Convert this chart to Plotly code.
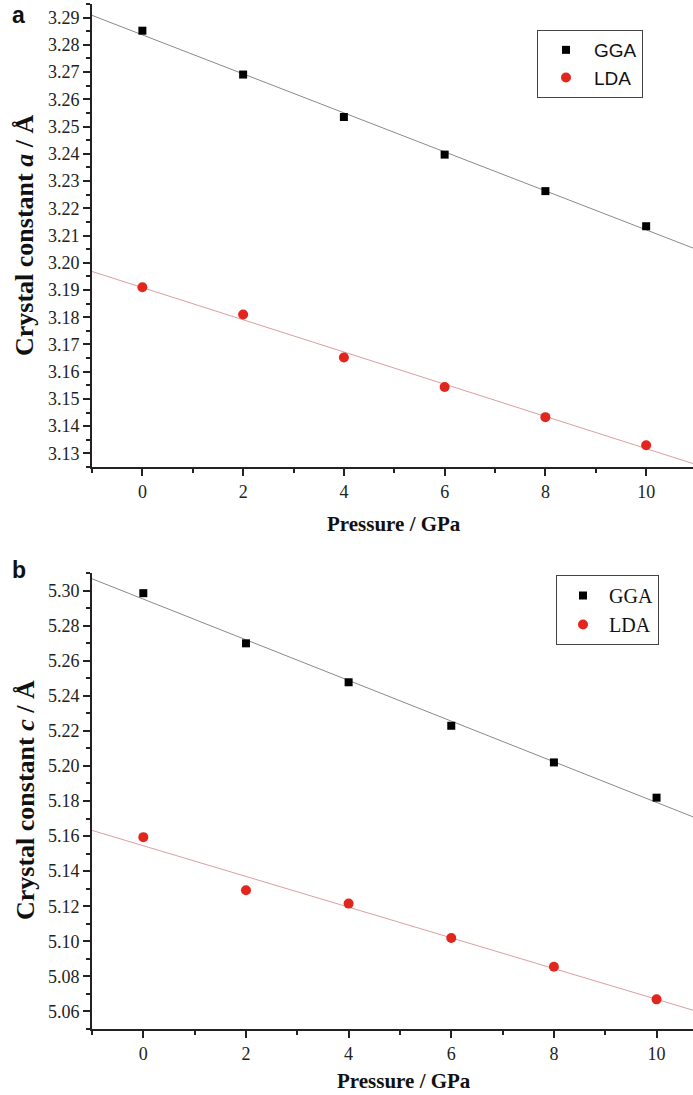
import numpy as np
import plotly.graph_objects as go

pressure = [0, 2, 4, 6, 8, 10]
a_gga = [3.2852, 3.2691, 3.2535, 3.2397, 3.2263, 3.2134]
a_lda = [3.1910, 3.1810, 3.1652, 3.1544, 3.1433, 3.1330]
c_gga = [5.2985, 5.2699, 5.2477, 5.2229, 5.2020, 5.1819]
c_lda = [5.1594, 5.1291, 5.1215, 5.1019, 5.0855, 5.0669]

x_ticks = [0, 2, 4, 6, 8, 10]
fit_span = [-1, 11]

RED = "#e2261d"
BLACK = "#000000"
SERIF = "Liberation Serif"
SANS = "Liberation Sans"

fig = go.Figure()


def fit_line(xs, ys):
    k, b = np.polyfit(xs, ys, 1)
    xx = np.array(fit_span, dtype=float)
    return xx, k * xx + b


# Top panel (a)
for ys, lcol in [(a_gga, "#8a8a8a"), (a_lda, "#d9a0a0")]:
    fx, fy = fit_line(pressure, ys)
    fig.add_trace(go.Scatter(x=fx, y=fy, mode="lines", line=dict(color=lcol, width=1),
                             showlegend=False, xaxis="x", yaxis="y", hoverinfo="skip"))
for ys, name, col, sym, sz in [
    (a_gga, "GGA", BLACK, "square", 8),
    (a_lda, "LDA", RED, "circle", 10),
]:
    fig.add_trace(go.Scatter(x=pressure, y=ys, mode="markers", name=name,
                             marker=dict(color=col, symbol=sym, size=sz),
                             xaxis="x", yaxis="y", legend="legend"))

# Bottom panel (b)
for ys, lcol in [(c_gga, "#8a8a8a"), (c_lda, "#d9a0a0")]:
    fx, fy = fit_line(pressure, ys)
    fig.add_trace(go.Scatter(x=fx, y=fy, mode="lines", line=dict(color=lcol, width=1),
                             showlegend=False, xaxis="x2", yaxis="y2", hoverinfo="skip"))
for ys, name, col, sym, sz in [
    (c_gga, "GGA", BLACK, "square", 8),
    (c_lda, "LDA", RED, "circle", 10),
]:
    fig.add_trace(go.Scatter(x=pressure, y=ys, mode="markers", name=name,
                             marker=dict(color=col, symbol=sym, size=sz),
                             xaxis="x2", yaxis="y2", legend="legend2"))

L, R, T, B = 92, 0, 4, 66
W, H = 693, 1095
PH = H - T - B
PW = W - L - R


def py(px):
    return (H - B - px) / PH


def pxf(px):
    return (px - L) / PW


axis_common = dict(showline=True, linecolor="#222", linewidth=2, ticks="outside",
                   ticklen=7, tickwidth=1.5, tickcolor="#222", showgrid=False,
                   zeroline=False, mirror=False,
                   tickfont=dict(family=SERIF, size=18, color="#222"))
minor_common = dict(ticks="outside", ticklen=4, tickcolor="#222", tickwidth=1.5)

fig.update_layout(
    width=W, height=H,
    margin=dict(l=L, r=R, t=T, b=B),
    plot_bgcolor="white", paper_bgcolor="white",
    xaxis=dict(domain=[0, 1], anchor="y", range=[-1, 10.93], tickvals=x_ticks,
               minor=dict(dtick=1, tick0=-1, **minor_common), **axis_common),
    yaxis=dict(domain=[py(467), 1], anchor="x", range=[3.125, 3.295], dtick=0.01, tick0=3.0,
               tickformat=".2f", minor=dict(dtick=0.005, **minor_common), **axis_common),
    xaxis2=dict(domain=[0, 1], anchor="y2", range=[-1, 10.71], tickvals=x_ticks,
                minor=dict(dtick=1, tick0=-1, **minor_common), **axis_common),
    yaxis2=dict(domain=[0, py(573)], anchor="x2", range=[5.05, 5.31], dtick=0.02, tick0=5.0,
                tickformat=".2f", minor=dict(dtick=0.01, **minor_common), **axis_common),
    legend=dict(x=pxf(537), y=py(30), xanchor="left", yanchor="top",
                bordercolor="#444", borderwidth=1, bgcolor="white",
                font=dict(family=SANS, size=19, color="#111"), itemwidth=46),
    legend2=dict(x=pxf(556), y=py(575), xanchor="left", yanchor="top",
                 bordercolor="#444", borderwidth=1, bgcolor="white",
                 font=dict(family=SERIF, size=20, color="#111"), itemwidth=42),
    showlegend=True,
)

annotations = [
    dict(text="<b>Crystal constant <i>a</i> / Å</b>", x=pxf(25), y=py(236), textangle=-90,
         font=dict(family=SERIF, size=26, color="#111")),
    dict(text="<b>Crystal constant <i>c</i> / Å</b>", x=pxf(25), y=py(800), textangle=-90,
         font=dict(family=SERIF, size=26, color="#111")),
    dict(text="<b>Pressure / GPa</b>", x=pxf(394), y=py(524),
         font=dict(family=SERIF, size=21, color="#111")),
    dict(text="<b>Pressure / GPa</b>", x=pxf(404), y=py(1081),
         font=dict(family=SERIF, size=21, color="#111")),
    dict(text="<b>a</b>", x=pxf(18), y=py(15), font=dict(family=SANS, size=23, color="#111")),
    dict(text="<b>b</b>", x=pxf(19), y=py(570), font=dict(family=SANS, size=23, color="#111")),
]
for a in annotations:
    a.update(xref="paper", yref="paper", showarrow=False, xanchor="center", yanchor="middle")
fig.update_layout(annotations=annotations)

fig.write_html("out.html")
